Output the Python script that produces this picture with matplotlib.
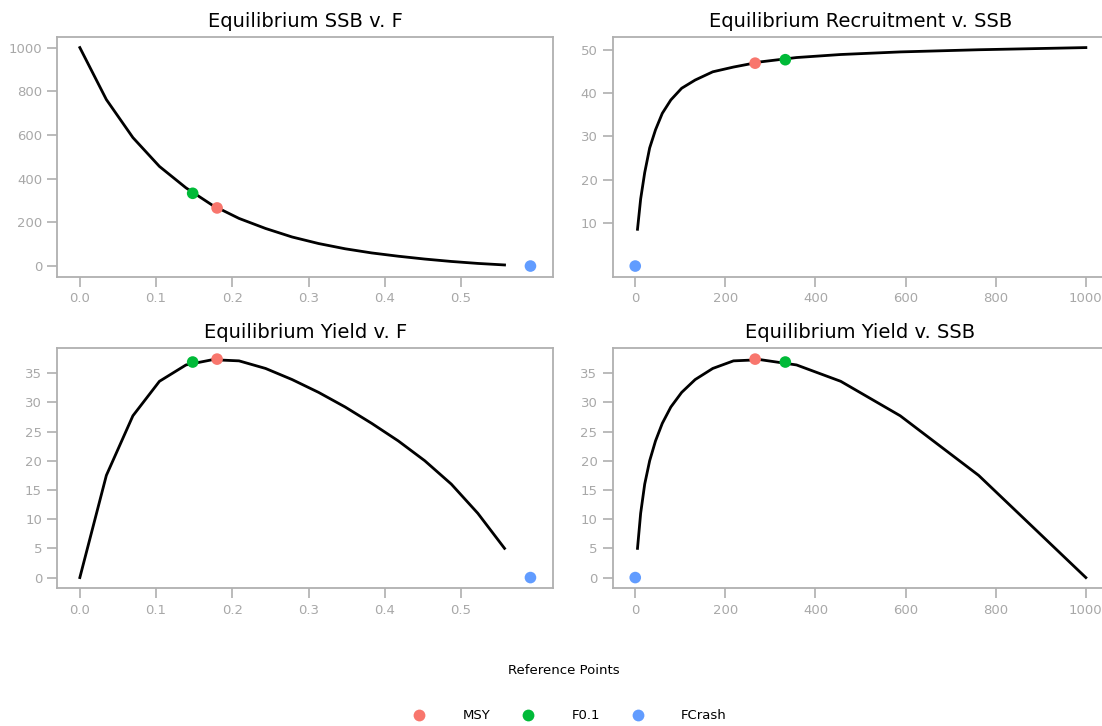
import matplotlib
matplotlib.use("Agg")
import matplotlib.pyplot as plt
from matplotlib.lines import Line2D

# equilibrium curves over the fishing mortality grid
f_grid = [0.0, 0.0348, 0.0696, 0.1044, 0.1392, 0.174, 0.2088, 0.2436, 0.2784,
          0.3132, 0.348, 0.3828, 0.4176, 0.4524, 0.4872, 0.522, 0.557]
ssb = [1000, 762, 588, 456, 358, 278, 218, 172, 133, 103, 79, 60, 45, 32, 21, 12, 5]
recruits = [50.5, 50.0, 49.5, 48.9, 48.2, 47.2, 46.0, 44.9, 43.0, 41.1, 38.4,
            35.3, 31.5, 27.3, 21.6, 15.5, 8.5]
yld = [0.0, 17.5, 27.7, 33.6, 36.4, 37.3, 37.1, 35.8, 33.9, 31.7, 29.2, 26.4,
       23.4, 20.0, 16.0, 11.0, 5.0]

# reference points
ref_names = ["MSY", "F0.1", "FCrash"]
ref_f = [0.180, 0.148, 0.591]
ref_ssb = [266, 333, 0]
ref_rec = [46.9, 47.7, 0]
ref_yld = [37.4, 36.9, 0]
ref_colors = ["#F8766D", "#00BA38", "#619CFF"]

grey = "#a8a8a8"
spine_grey = "#b0b0b0"

fig = plt.figure(figsize=(11.02, 7.26), dpi=100)
w, h = 0.4498, 0.331
axes = [
    fig.add_axes([0.052, 0.6185, w, h]),
    fig.add_axes([0.556, 0.6185, w, h]),
    fig.add_axes([0.052, 0.1894, w, h]),
    fig.add_axes([0.556, 0.1894, w, h]),
]

panels = [
    ("Equilibrium SSB v. F", f_grid, ssb, ref_f, ref_ssb),
    ("Equilibrium Recruitment v. SSB", ssb, recruits, ref_ssb, ref_rec),
    ("Equilibrium Yield v. F", f_grid, yld, ref_f, ref_yld),
    ("Equilibrium Yield v. SSB", ssb, yld, ref_ssb, ref_yld),
]

for ax, (title, x, y, rx, ry) in zip(axes, panels):
    ax.plot(x, y, color="black", lw=2.0, zorder=2)
    ax.scatter(rx, ry, c=ref_colors, s=70, zorder=3, linewidths=0)
    ax.set_title(title, fontsize=14, pad=7)
    for sp in ax.spines.values():
        sp.set_color(spine_grey)
        sp.set_linewidth(1.3)
    ax.tick_params(colors=grey, labelsize=9.5, length=7, width=1.1, pad=4)

for ax in (axes[0], axes[2]):
    ax.set_xticks([0.0, 0.1, 0.2, 0.3, 0.4, 0.5])
    ax.set_xticklabels(["0.0", "0.1", "0.2", "0.3", "0.4", "0.5"])
for ax in (axes[1], axes[3]):
    ax.set_xticks([0, 200, 400, 600, 800, 1000])
axes[0].set_yticks([0, 200, 400, 600, 800, 1000])
axes[1].set_yticks([10, 20, 30, 40, 50])
for ax in (axes[2], axes[3]):
    ax.set_yticks([0, 5, 10, 15, 20, 25, 30, 35])

# shared legend along the bottom
fig.text(0.512, 0.077, "Reference Points", ha="center", va="center", fontsize=9.5)
handles = [Line2D([], [], ls="none", marker="o", markersize=8.5, color=c,
                  markeredgewidth=0) for c in ref_colors]
fig.legend(handles, ref_names, loc="center", bbox_to_anchor=(0.517, 0.014),
           ncol=3, frameon=False, fontsize=9.5, handlelength=1.0,
           handletextpad=2.8, columnspacing=2.35)

fig.savefig("out.png", dpi=100)
